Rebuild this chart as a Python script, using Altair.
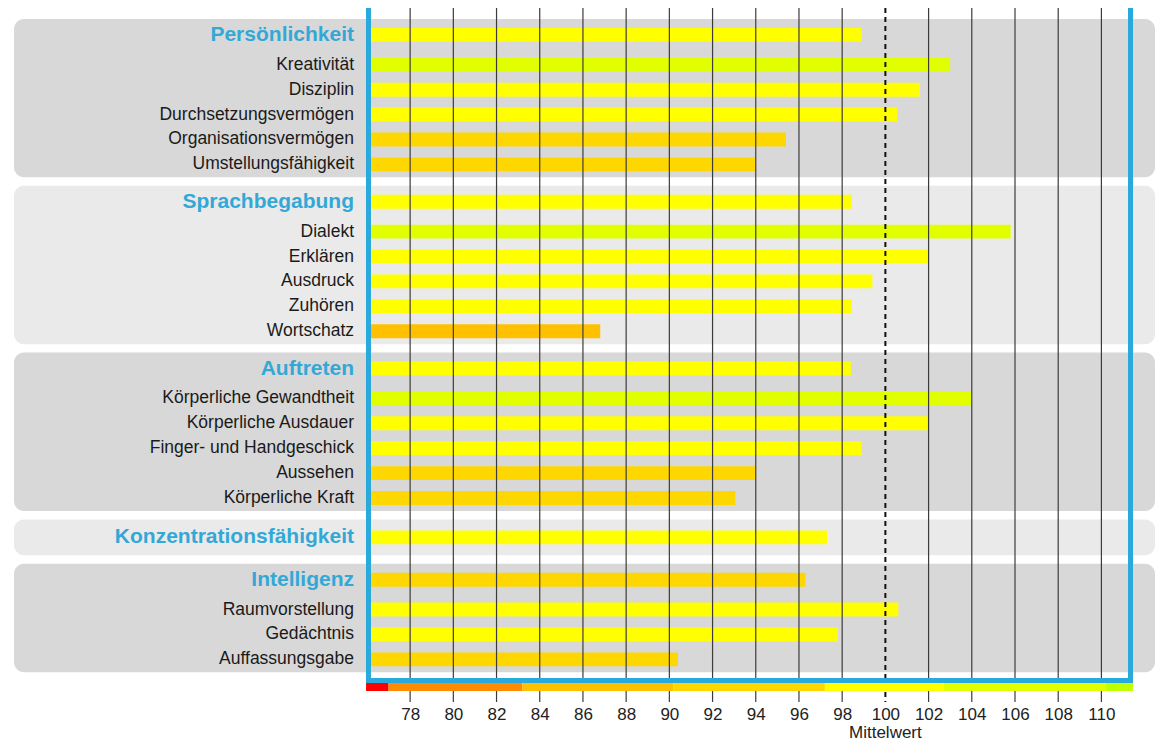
import altair as alt
import pandas as pd

# ---------------- data ----------------
groups = ["Persönlichkeit", "Sprachbegabung", "Auftreten",
          "Konzentrationsfähigkeit", "Intelligenz"]
group_values = [98.9, 98.45, 98.4, 97.3, 96.3]

items = [
    ["Kreativität", "Disziplin", "Durchsetzungsvermögen",
     "Organisationsvermögen", "Umstellungsfähigkeit"],
    ["Dialekt", "Erklären", "Ausdruck", "Zuhören", "Wortschatz"],
    ["Körperliche Gewandtheit", "Körperliche Ausdauer",
     "Finger- und Handgeschick", "Aussehen", "Körperliche Kraft"],
    [],
    ["Raumvorstellung", "Gedächtnis", "Auffassungsgabe"],
]
item_values = [
    [103.0, 101.6, 100.55, 95.4, 94.0],
    [105.8, 102.0, 99.4, 98.45, 86.8],
    [104.0, 101.95, 98.9, 94.0, 93.05],
    [],
    [100.6, 97.8, 90.4],
]

tick_values = [78, 80, 82, 84, 86, 88, 90, 92, 94, 96, 98, 100,
               102, 104, 106, 108, 110]
band_edges = [75.96, 77, 83.2, 90.2, 97.2, 102.7, 110.2, 111.46]
band_colors = ["#FF0000", "#FF8C00", "#FFC000", "#FFD700",
               "#FFFF00", "#E2FF00", "#BFFF00"]
x_min, x_max = 76.05, 111.37
axis_title = "Mittelwert"

# ---------------- layout (row units) ----------------
PX = 24.9            # pixels per row unit
W, H = 763, 683      # plot area
rows, panels = [], []
y = 0.44
for gi, g in enumerate(groups):
    top = y
    single = len(items[gi]) == 0
    y += 0.72 if single else 0.64
    rows.append(dict(label=g, value=group_values[gi], pos=y, kind="header"))
    for ii, it in enumerate(items[gi]):
        y += 1.2 if ii == 0 else 1.0
        rows.append(dict(label=it, value=item_values[gi][ii], pos=y, kind="item"))
    y += 0.72 if single else 0.52
    panels.append(dict(top=top, bottom=y, shade="dark" if gi % 2 == 0 else "light"))
    y += 0.34

rows_df = pd.DataFrame(rows)
rows_df["start"] = x_min
panels_df = pd.DataFrame(panels)
bands_df = pd.DataFrame(dict(a=band_edges[:-1], b=band_edges[1:]))
bands_df["mid"] = (bands_df["a"] + bands_df["b"]) / 2
ticks_df = pd.DataFrame(dict(t=tick_values))
ticks_df["dashed"] = ticks_df["t"] == 100

yscale = alt.Scale(domain=[0, H / PX], reverse=True, nice=False, zero=False)
xscale = alt.Scale(domain=[x_min, x_max], nice=False, zero=False)
cscale = alt.Scale(type="threshold", domain=band_edges[1:-1], range=band_colors)

FONT = "Liberation Sans"
BLUE = "#29A9DC"

base_x = alt.X("start:Q", scale=xscale,
               axis=alt.Axis(values=tick_values, title=None, grid=False,
                             domain=False, ticks=False, labelPadding=15,
                             labelFontSize=17, labelFont=FONT,
                             labelColor="#222222"))

panels_layer = alt.Chart(panels_df).mark_rect(cornerRadius=10, clip=False).encode(
    x=alt.value(-354), x2=alt.value(787),
    y=alt.Y("top:Q", scale=yscale, axis=None), y2="bottom:Q",
    color=alt.Color("shade:N", scale=alt.Scale(domain=["dark", "light"],
                                               range=["#D8D8D8", "#EAEAEA"]),
                    legend=None),
)

bars = alt.Chart(rows_df).transform_calculate(
    y1="datum.pos - 0.28", y2="datum.pos + 0.28"
).mark_rect().encode(
    x=base_x, x2="value:Q",
    y=alt.Y("y1:Q", scale=yscale, axis=None), y2="y2:Q",
    fill=alt.Fill("value:Q", scale=cscale, legend=None),
)

solid_rules = alt.Chart(ticks_df).transform_filter("!datum.dashed").mark_rule(
    color="#3C3C3C", strokeWidth=1.2, clip=False
).encode(x=alt.X("t:Q", scale=xscale), y=alt.value(0), y2=alt.value(694))

dashed_rule = alt.Chart(ticks_df).transform_filter("datum.dashed").mark_rule(
    color="#111111", strokeWidth=2, strokeDash=[5, 4], clip=False
).encode(x=alt.X("t:Q", scale=xscale), y=alt.value(0), y2=alt.value(694))

frame = alt.Chart(panels_df.head(1)).mark_rect(
    fill=None, stroke=BLUE, strokeWidth=5, clip=False
).encode(x=alt.value(0.5), x2=alt.value(762.5), y=alt.value(-8), y2=alt.value(672.5))

color_bar = alt.Chart(bands_df).mark_rect(clip=False).encode(
    x=alt.X("a:Q", scale=xscale), x2="b:Q",
    y=alt.value(675), y2=alt.value(683),
    fill=alt.Fill("mid:Q", scale=cscale, legend=None),
)

headers = alt.Chart(rows_df).transform_filter("datum.kind == 'header'").mark_text(
    align="right", baseline="middle", font=FONT, fontSize=21, fontWeight="bold",
    color="#33A8D6", clip=False
).encode(x=alt.value(-14), y=alt.Y("pos:Q", scale=yscale), text="label:N")

labels = alt.Chart(rows_df).transform_filter("datum.kind == 'item'").mark_text(
    align="right", baseline="middle", font=FONT, fontSize=17.5,
    color="#1A1A1A", clip=False
).encode(x=alt.value(-14), y=alt.Y("pos:Q", scale=yscale), text="label:N")

title = alt.Chart(pd.DataFrame(dict(t=[100], s=[axis_title]))).mark_text(
    align="center", baseline="alphabetic", font=FONT, fontSize=17,
    color="#222222", clip=False
).encode(x=alt.X("t:Q", scale=xscale), y=alt.value(730), text="s:N")

chart = alt.layer(
    panels_layer, bars, solid_rules, dashed_rule, frame, color_bar,
    headers, labels, title
).resolve_scale(color="independent").properties(
    width=W, height=H,
    autosize=alt.AutoSizeParams(type="none"),
    padding={"left": 360, "top": 0, "right": 24, "bottom": 50},
    background="white",
).configure_view(stroke=None)

chart.save("out.html", embed_options={"renderer": "svg", "actions": False})
